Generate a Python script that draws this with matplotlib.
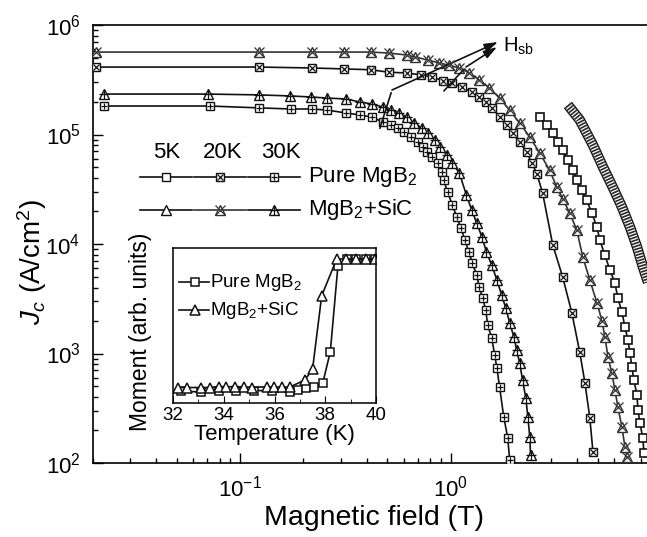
import matplotlib
matplotlib.use("Agg")
import matplotlib.pyplot as plt
import numpy as np

plt.rcParams['font.family'] = ['Liberation Sans', 'DejaVu Sans']
plt.rcParams['mathtext.fontset'] = 'custom'
plt.rcParams['mathtext.rm'] = 'Liberation Sans'
plt.rcParams['mathtext.it'] = 'Liberation Sans:italic'
plt.rcParams['mathtext.bf'] = 'Liberation Sans:bold'

# ---------------- data ----------------
# Pure MgB2, 5 K (open squares)
B_pure5 = [2.65, 2.86, 3.06, 3.23, 3.41, 3.61, 3.81, 3.98, 4.2, 4.44, 4.69, 4.96, 5.12, 5.41,
           5.72, 6.04, 6.24, 6.52, 6.74, 6.96, 7.12, 7.28, 7.43, 7.69, 7.77, 7.94, 8.2, 8.3]
J_pure5 = [1.44e5, 1.22e5, 1.03e5, 8.6e4, 7.2e4, 5.8e4, 4.7e4, 3.84e4, 3.1e4, 2.5e4, 1.92e4,
           1.43e4, 1.09e4, 7.9e3, 5.8e3, 4.4e3, 3.2e3, 2.4e3, 1.75e3, 1.33e3, 1.01e3, 750, 570,
           420, 305, 232, 169, 123]

# Pure MgB2, 20 K (squares with x)
B_pure20 = [0.0206, 0.123, 0.22, 0.313, 0.42, 0.51, 0.62, 0.72, 0.82, 0.92, 1.02, 1.13, 1.26,
            1.36, 1.48, 1.58, 1.71, 1.85, 1.97, 2.13, 2.3, 2.43, 2.57, 2.74, 3.06, 3.41, 3.77,
            4.11, 4.35, 4.59, 4.75]
J_pure20 = [4.13e5, 4.13e5, 4.05e5, 3.97e5, 3.9e5, 3.7e5, 3.65e5, 3.5e5, 3.35e5, 3.1e5, 2.95e5,
            2.7e5, 2.45e5, 2.2e5, 1.98e5, 1.75e5, 1.44e5, 1.22e5, 1.03e5, 8.6e4, 6.9e4, 5.5e4,
            4.4e4, 2.9e4, 9.8e3, 5.0e3, 2.35e3, 1.03e3, 540, 258, 126]

# Pure MgB2, 30 K (squares with +)
B_pure30 = [0.0225, 0.0716, 0.123, 0.175, 0.22, 0.26, 0.32, 0.37, 0.425, 0.475, 0.524, 0.56,
            0.604, 0.652, 0.697, 0.736, 0.777, 0.82, 0.867, 0.906, 0.927, 0.968, 1.02, 1.07,
            1.12, 1.17, 1.22, 1.27, 1.33, 1.37, 1.42, 1.47, 1.5, 1.57, 1.62, 1.66, 1.71, 1.79,
            1.87, 1.91]
J_pure30 = [1.82e5, 1.82e5, 1.75e5, 1.71e5, 1.71e5, 1.67e5, 1.57e5, 1.51e5, 1.44e5, 1.3e5,
            1.22e5, 1.15e5, 1.05e5, 9.5e4, 8.55e4, 7.7e4, 6.9e4, 6.2e4, 5.5e4, 4.55e4, 3.84e4,
            2.99e4, 2.27e4, 1.77e4, 1.4e4, 1.09e4, 8.5e3, 6.7e3, 5.2e3, 4.05e3, 3.2e3, 2.5e3,
            1.82e3, 1.39e3, 970, 740, 495, 263, 169, 106]

# MgB2 + SiC, 5 K (dense triangles)
B_sic5 = [3.61, 4.11, 4.75, 5.3, 5.9, 6.52, 7.12, 7.69, 8.2, 8.7]
J_sic5 = [1.86e5, 1.36e5, 8.0e4, 5.05e4, 3.3e4, 2.18e4, 1.43e4, 9.4e3, 6.2e3, 4.4e3]

# MgB2 + SiC, 20 K (triangles with x)
B_sic20 = [0.0206, 0.123, 0.22, 0.313, 0.42, 0.51, 0.62, 0.68, 0.78, 0.88, 0.98, 1.1, 1.23,
           1.37, 1.53, 1.71, 1.91, 2.13, 2.38, 2.65, 2.96, 3.2, 3.41, 3.69, 3.98, 4.25, 4.59,
           4.96, 5.24, 5.41, 5.6, 5.84, 6.04, 6.24, 6.52, 6.74, 6.89]
J_sic20 = [5.66e5, 5.66e5, 5.66e5, 5.66e5, 5.66e5, 5.54e5, 5.32e5, 5.1e5, 4.79e5, 4.5e5, 4.31e5,
           4.05e5, 3.65e5, 3.15e5, 2.66e5, 2.15e5, 1.67e5, 1.27e5, 9.5e4, 6.8e4, 4.7e4, 3.3e4,
           2.6e4, 1.9e4, 1.34e4, 7.6e3, 4.7e3, 2.9e3, 2.0e3, 1.42e3, 930, 660, 465, 325, 213,
           140, 113]

# MgB2 + SiC, 30 K (triangles with +)
B_sic30 = [0.0225, 0.0705, 0.123, 0.173, 0.218, 0.26, 0.32, 0.37, 0.425, 0.475, 0.524, 0.57,
           0.62, 0.67, 0.73, 0.78, 0.84, 0.89, 0.96, 1.02, 1.1, 1.19, 1.26, 1.33, 1.41, 1.48,
           1.57, 1.66, 1.75, 1.83, 1.91, 2.0, 2.06, 2.13, 2.2, 2.28, 2.33, 2.38, 2.4]
J_sic30 = [2.34e5, 2.34e5, 2.3e5, 2.25e5, 2.2e5, 2.15e5, 2.11e5, 1.98e5, 1.9e5, 1.78e5, 1.67e5,
           1.57e5, 1.44e5, 1.27e5, 1.15e5, 1.03e5, 8.9e4, 7.7e4, 6.5e4, 5.5e4, 4.45e4, 2.8e4,
           2.05e4, 1.56e4, 1.16e4, 8.5e3, 6.4e3, 4.7e3, 3.4e3, 2.6e3, 1.9e3, 1.42e3, 1.08e3,
           820, 570, 390, 263, 173, 118]

# Inset: moment vs temperature
T_pure = [32.3, 33.1, 33.8, 34.5, 35.2, 35.9, 36.6, 36.94, 37.24, 37.55, 37.9, 38.2, 38.5,
          38.85, 39.2, 39.6, 39.95]
M_pure = [0.075, 0.072, 0.08, 0.08, 0.08, 0.08, 0.07, 0.085, 0.095, 0.105, 0.127, 0.331,
          0.886, 0.93, 0.93, 0.93, 0.93]
T_sic = [32.2, 32.55, 33.1, 33.45, 33.8, 34.1, 34.45, 34.8, 35.1, 35.7, 35.98, 36.3, 36.6,
         37.2, 37.5, 37.86, 38.45, 38.8, 39.2, 39.6, 39.95]
M_sic = [0.10, 0.10, 0.10, 0.10, 0.105, 0.105, 0.105, 0.105, 0.10, 0.105, 0.103, 0.103, 0.103,
         0.148, 0.219, 0.692, 0.929, 0.929, 0.929, 0.929, 0.929]

temps = ['5K', '20K', '30K']
series_names = ['Pure MgB$_2$', 'MgB$_2$+SiC']

# ---------------- figure ----------------
W, H = 647, 537
fig = plt.figure(figsize=(W / 100, H / 100), dpi=100)
ax = fig.add_axes([93 / W, 1 - 463 / H, (647 - 93) / W, (463 - 25) / H])

K = '#111111'
G = '#333333'


def curve(x, y, base, over, ms_b, ms_o, color=K, lw=1.2, mew=1.0, mew_o=0.9):
    ax.plot(x, y, '-', color=color, lw=lw, marker=base, ms=ms_b, mfc='white',
            mec=color, mew=mew, zorder=3)
    if over is not None:
        ax.plot(x, y, ls='none', marker=over, ms=ms_o, mec=color, mew=mew_o, zorder=4)


# pure 5K
curve(B_pure5, J_pure5, 's', None, 5.6, 0, mew=1.2)
# pure 20K
curve(B_pure20, J_pure20, 's', 'x', 6, 4)
# pure 30K
curve(B_pure30, J_pure30, 's', '+', 6, 5)
# sic 20K
curve(B_sic20, J_sic20, '^', 'x', 7.5, 7, color=G)
# sic 30K
curve(B_sic30, J_sic30, '^', '+', 7, 7)
# sic 5K: very dense triangles -> striped band
ax.plot(B_sic5, J_sic5, '-', color=K, lw=7.5, solid_capstyle='butt', zorder=3)
ax.plot(B_sic5, J_sic5, '-', color='white', lw=5.5, solid_capstyle='butt', zorder=3)
ax.plot(B_sic5, J_sic5, color='#2a2a2a', lw=5.5, dashes=(0.22, 0.16), zorder=3)

ax.set_xscale('log')
ax.set_yscale('log')
ax.set_xlim(0.02, 8.58)
ax.set_ylim(1e2, 1e6)
ax.spines['right'].set_visible(False)
for s in ax.spines.values():
    s.set_linewidth(1.2)
ax.tick_params(which='both', direction='in', top=False, right=False, width=1.0)
ax.tick_params(which='major', length=7, labelsize=16, pad=9)
ax.tick_params(which='minor', length=3.5)
ax.tick_params(axis='x', which='major', pad=9)

# x label & y label
fig.text(374 / W, 1 - 518 / H, 'Magnetic field (T)', ha='center', va='center', fontsize=20.5)
fig.text(32 / W, 1 - 262 / H, '$J_c$ (A/cm$^2$)', ha='center', va='center', fontsize=20,
         rotation=90)


# legend (manual)
def af(px, py):
    return ((px - 93) / 554, (463 - py) / 438)


mx = [166, 220, 274]
for t, cx in zip(temps, [167, 223, 281]):
    ax.text(*af(cx, 152), t, transform=ax.transAxes, ha='center', va='center', fontsize=16)
legend_styles = [
    [('s', None, 6, 0, K), ('s', 'x', 6, 4, K), ('s', '+', 6, 5, K)],
    [('^', None, 7, 0, K), ('^', 'x', 7.5, 7, G), ('^', '+', 7, 7, K)],
]
for row, (ry, name) in enumerate(zip([177, 210], series_names)):
    for (b, o, msb, mso, c), cx in zip(legend_styles[row], mx):
        x0, y0 = af(cx - 26, ry)
        x1, _ = af(cx + 26, ry)
        xm, _ = af(cx, ry)
        ax.plot([x0, x1], [y0, y0], '-', color=c, lw=1.2, transform=ax.transAxes, zorder=5)
        ax.plot([xm], [y0], marker=b, ms=msb, mfc='white', mec=c, mew=1.0,
                transform=ax.transAxes, zorder=6)
        if o is not None:
            ax.plot([xm], [y0], marker=o, ms=mso, mec=c, mew=0.9,
                    transform=ax.transAxes, zorder=7)
    ax.text(*af(308, ry), name, transform=ax.transAxes, ha='left', va='center', fontsize=16)

# H_sb annotation
ax.text(*af(503, 46), 'H$_{\\rm sb}$', transform=ax.transAxes, ha='left', va='center',
        fontsize=14.5)


def P(px, py):
    return (px, H - py)


ax.annotate('', xy=P(392, 90), xytext=P(379, 131), xycoords='figure pixels',
            textcoords='figure pixels', arrowprops=dict(arrowstyle='-', lw=1.2, color=K))
ax.annotate('', xy=P(498, 42), xytext=P(392, 90), xycoords='figure pixels',
            textcoords='figure pixels',
            arrowprops=dict(arrowstyle='-|>,head_length=0.8,head_width=0.25', lw=1.2, color=K,
                            shrinkA=0, shrinkB=0))
ax.annotate('', xy=P(466, 67), xytext=P(442, 93), xycoords='figure pixels',
            textcoords='figure pixels', arrowprops=dict(arrowstyle='-', lw=1.2, color=K))
ax.annotate('', xy=P(497, 47), xytext=P(466, 67), xycoords='figure pixels',
            textcoords='figure pixels',
            arrowprops=dict(arrowstyle='-|>,head_length=0.8,head_width=0.25', lw=1.2, color=K,
                            shrinkA=0, shrinkB=0))

# ---------------- inset ----------------
axi = fig.add_axes([173 / W, 1 - 403 / H, (376 - 173) / W, (403 - 248) / H])
axi.plot(T_pure, M_pure, '-', color=K, lw=1.2, marker='s', ms=6, mfc='white', mec=K, mew=1.1)
axi.plot(T_sic, M_sic, '-', color=K, lw=1.2, marker='^', ms=7.5, mfc='white', mec=K, mew=1.1)
axi.set_xlim(32, 40)
axi.set_ylim(0, 1)
axi.set_xticks([32, 34, 36, 38, 40])
axi.set_xticks([33, 35, 37, 39], minor=True)
axi.set_yticks([])
axi.tick_params(which='both', direction='in', top=False, right=False, left=False)
axi.tick_params(which='major', length=5, labelsize=13.5, pad=3)
axi.tick_params(which='minor', length=3)
for s in axi.spines.values():
    s.set_linewidth(1.1)
axi.set_xlabel('Temperature (K)', fontsize=16, labelpad=0)
fig.text(141 / W, 1 - 332 / H, 'Moment (arb. units)', ha='center', va='center', fontsize=16.5,
         rotation=90)


def ifr(px, py):
    return ((px - 173) / 203, (403 - py) / 155)


for ry, mk, msz, name in [(282, 's', 6, series_names[0]), (310, '^', 7.5, series_names[1])]:
    x0, y0 = ifr(179, ry)
    x1, _ = ifr(209, ry)
    xm, _ = ifr(195, ry)
    axi.plot([x0, x1], [y0, y0], '-', color=K, lw=1.2, transform=axi.transAxes)
    axi.plot([xm], [y0], marker=mk, ms=msz, mfc='white', mec=K, mew=1.1, transform=axi.transAxes)
    axi.text(*ifr(210, ry), name, transform=axi.transAxes, ha='left', va='center', fontsize=13.5)

fig.savefig('out.png', dpi=100)
